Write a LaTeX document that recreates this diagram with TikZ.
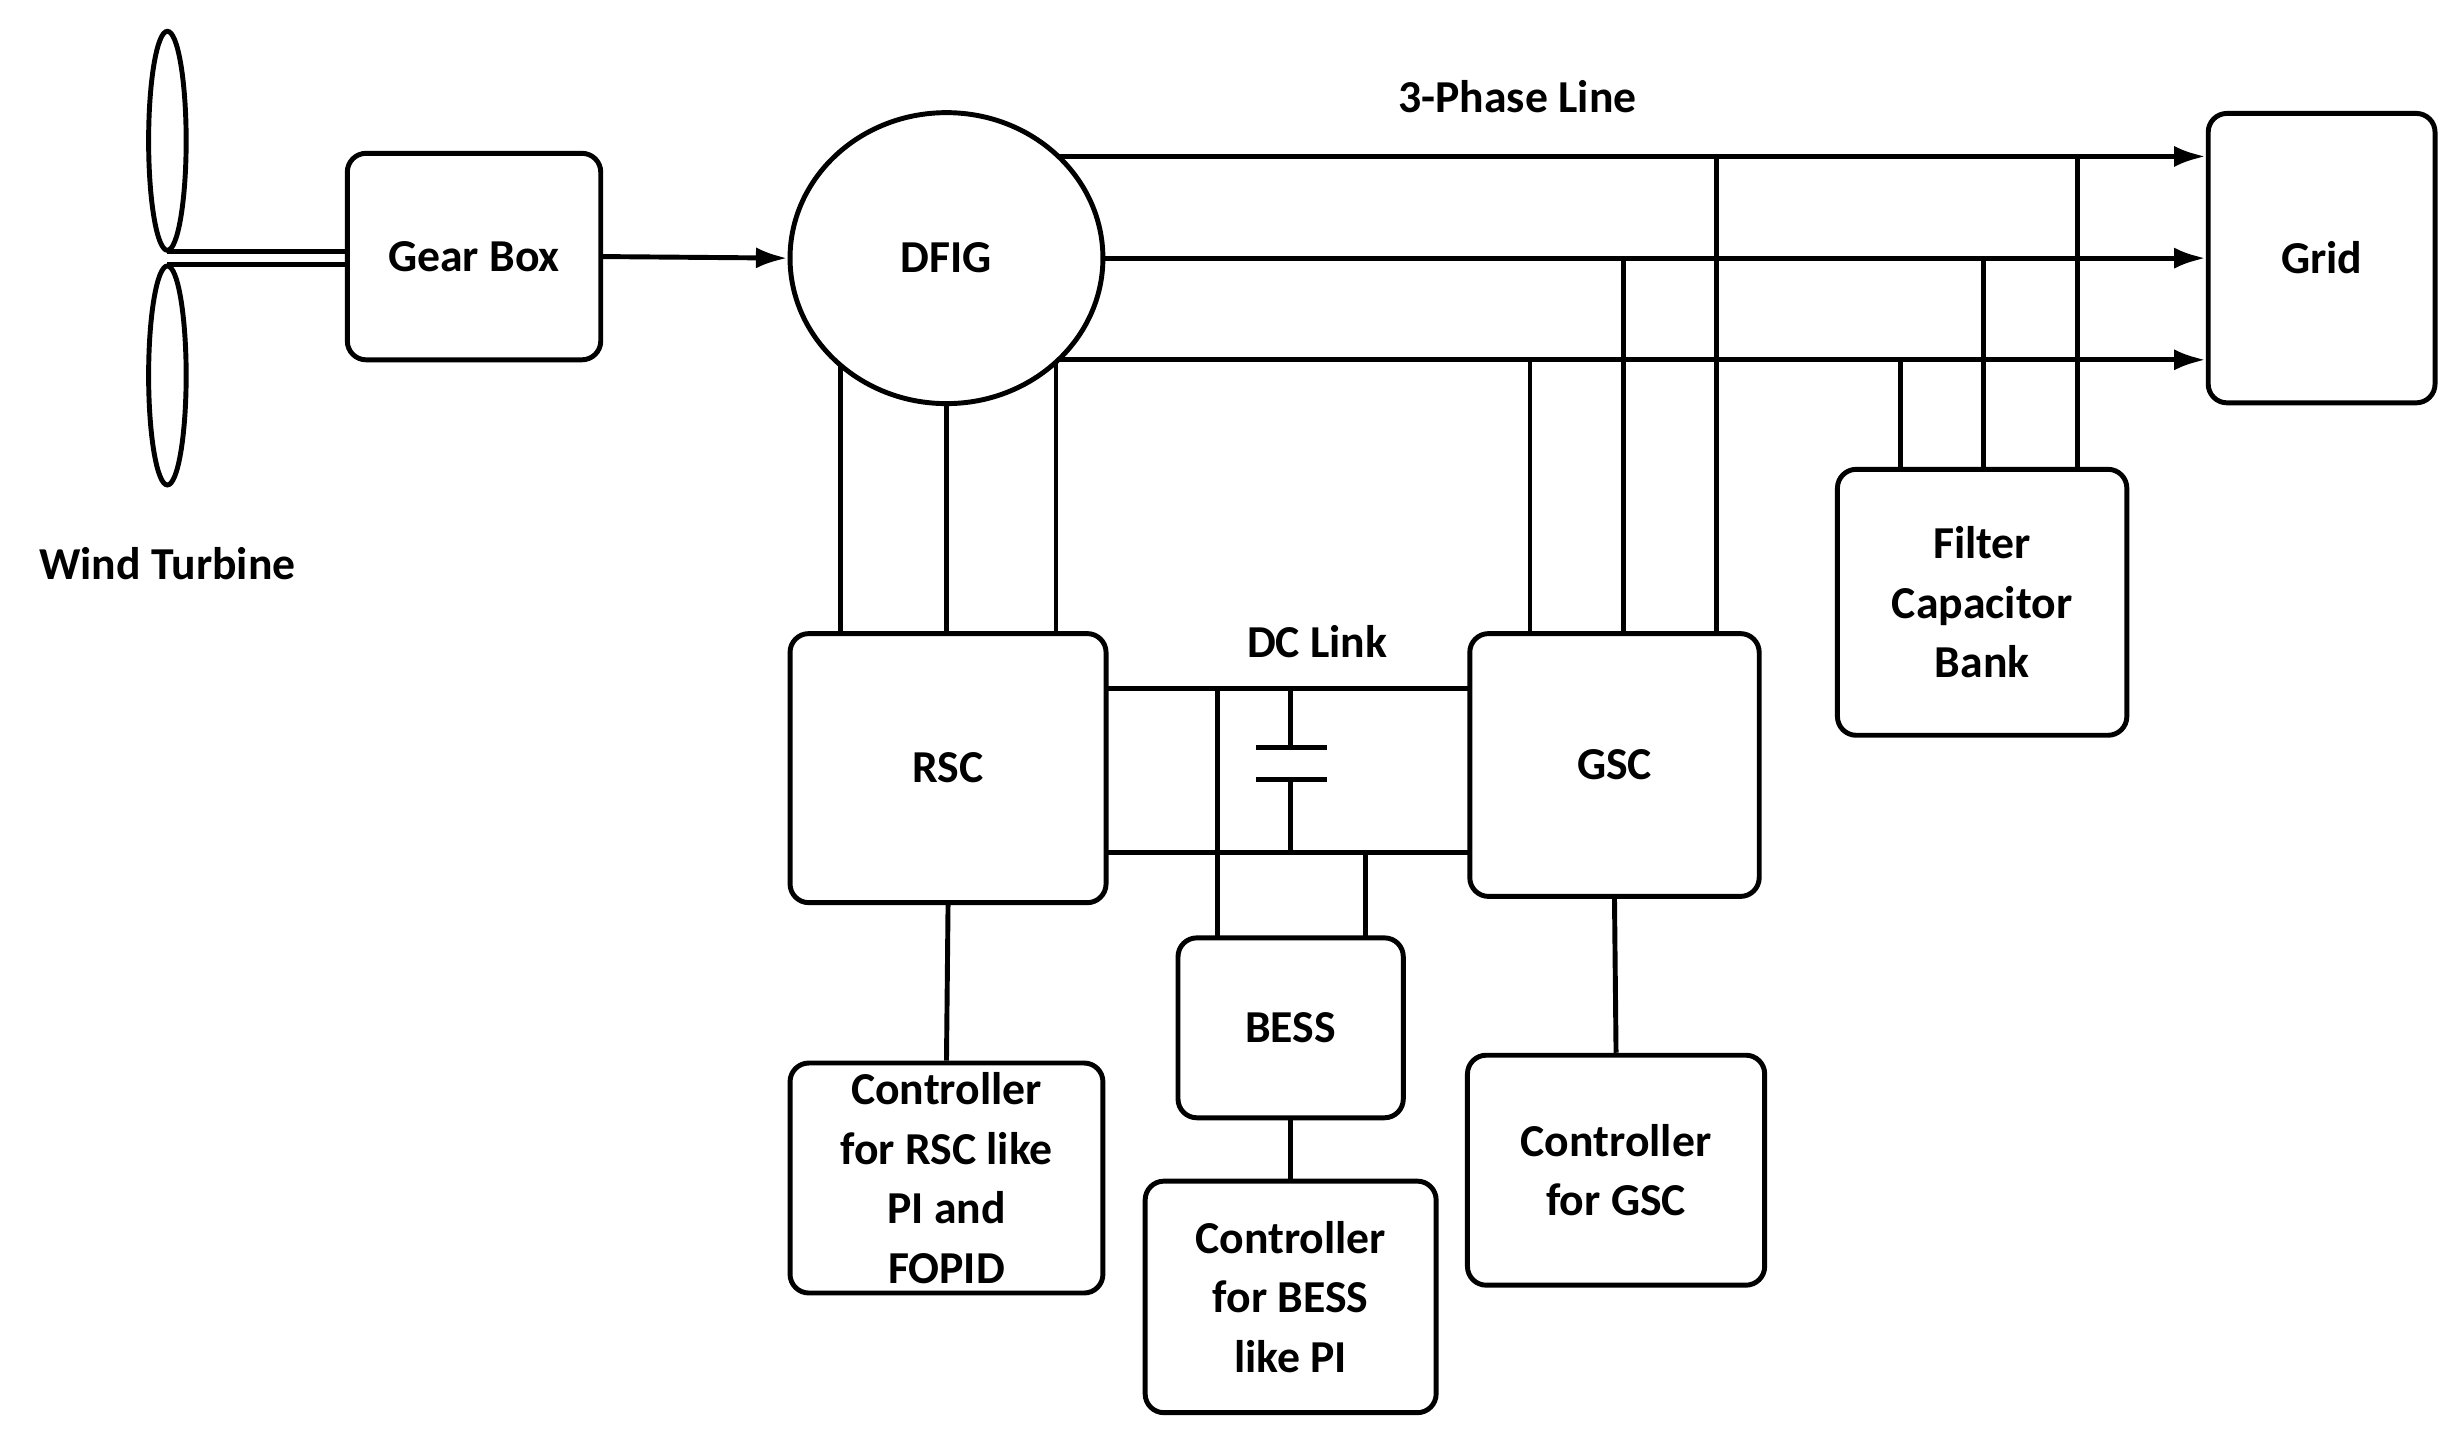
\documentclass[tikz,border=0pt]{standalone}
\usepackage{fontspec}
\setmainfont{Carlito}
\usetikzlibrary{shapes.geometric,arrows.meta}
\newlength\pu \setlength\pu{0.015644cm}
\begin{document}
\begin{tikzpicture}[x=0.015644cm,y=-0.015644cm,line width=1.4pt,
 box/.style={draw,rounded corners=12\pu,align=center,font=\bfseries\fontsize{13}{17}\selectfont,inner sep=0pt},
 lbl/.style={font=\bfseries\fontsize{13}{17}\selectfont},
 arr/.style={-{Latex[length=9pt,width=6pt]}}]
\useasboundingbox (0,0) rectangle (1568,927);
% turbine
\draw (107,90) ellipse [x radius=12,y radius=70];
\draw (107,240) ellipse [x radius=12,y radius=70];
\node[lbl] (wt) at (107,360) {Wind Turbine};
\node[box,minimum width=162\pu,minimum height=132\pu] (gb) at (303,164) {Gear Box};
\draw (107,161) -- (gb.west |- 0,161);
\draw (107,169) -- (gb.west |- 0,169);
\node[draw,ellipse,minimum width=200\pu,minimum height=186\pu,lbl] (dfig) at (605,165) {DFIG};
\draw[arr] (gb.east) -- (dfig.west);
\node[box,minimum width=145\pu,minimum height=185\pu] (grid) at (1484,165) {Grid};
\node[lbl] (tpl) at (970,62) {3-Phase Line};
\draw[arr] (677,100) -- (grid.west |- 0,100);
\draw[arr] (dfig.east) -- (grid.west);
\draw[arr] (677,230) -- (grid.west |- 0,230);
\node[box,minimum width=202\pu,minimum height=172\pu] (rsc) at (606,491) {RSC};
\node[box,minimum width=185\pu,minimum height=168\pu] (gsc) at (1032,489) {GSC};
\node[box,minimum width=185\pu,minimum height=170\pu] (fcb) at (1267,385) {Filter\\Capacitor\\Bank};
\node[box,minimum width=144\pu,minimum height=115\pu] (bess) at (825,657) {BESS};
\node[box,minimum width=186\pu,minimum height=148\pu] (cb) at (825,829) {Controller\\for BESS\\like PI};
\node[box,minimum width=200\pu,minimum height=147\pu] (cr) at (605,753) {Controller\\for RSC like\\PI and\\FOPID};
\node[box,minimum width=190\pu,minimum height=147\pu] (cg) at (1033,748) {Controller\\for GSC};
% DFIG to RSC
\draw (537,233) -- (537,405);
\draw (dfig.south) -- (605,405);
\draw (675,231) -- (675,405);
% GSC
\draw (978,230) -- (978,405);
\draw (1038,165) -- (1038,405);
\draw (1097,100) -- (1097,405);
% filter
\draw (1215,230) -- (1215,300);
\draw (1268,165) -- (1268,300);
\draw (1328,100) -- (1328,300);
% DC link
\node[lbl] (dcl) at (842,410) {DC Link};
\draw (707,440) -- (940,440);
\draw (707,545) -- (940,545);
\draw (778,440) -- (778,600);
\draw (873,545) -- (873,600);
\draw (825,440) -- (825,478);
\draw (803,478) -- (848,478);
\draw (803,498) -- (848,498);
\draw (825,498) -- (825,545);
% controllers
\draw (rsc.south) -- (cr.north);
\draw (gsc.south) -- (cg.north);
\draw (bess.south) -- (cb.north);
\end{tikzpicture}
\end{document}
